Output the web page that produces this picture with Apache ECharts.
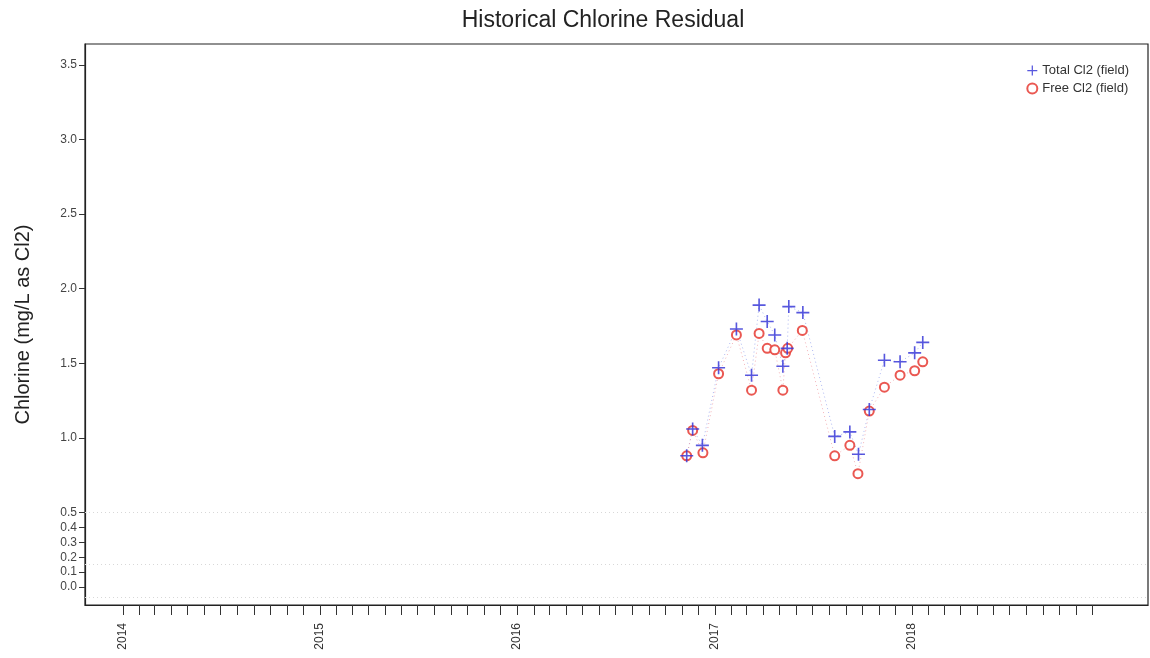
<!DOCTYPE html>
<html>
<head>
<meta charset="utf-8">
<title>Historical Chlorine Residual</title>
<script src="https://cdn.jsdelivr.net/npm/echarts@6/dist/echarts.min.js"></script>
<style>
  html, body { margin: 0; padding: 0; background: #fff; }
  #chart { width: 1150px; height: 658px; }
</style>
</head>
<body>
<div id="chart"></div>
<script>
// Field sampling dates and residuals (mg/L as Cl2)
const totalDates = [
  '2016-11-10', '2016-11-21', '2016-12-09', '2017-01-08', '2017-02-10',
  '2017-03-10', '2017-03-24', '2017-04-08', '2017-04-22', '2017-05-07',
  '2017-05-15', '2017-05-18', '2017-06-13', '2017-08-11', '2017-09-08',
  '2017-09-24', '2017-10-14', '2017-11-11', '2017-12-10', '2018-01-06',
  '2018-01-21'
];
const totalCl2 = [
  0.88, 1.06, 0.95, 1.47, 1.73,
  1.42, 1.89, 1.78, 1.69, 1.48,
  1.60, 1.88, 1.84, 1.01, 1.04,
  0.89, 1.19, 1.52, 1.51, 1.57,
  1.64
];
const freeDates = [
  '2016-11-10', '2016-11-21', '2016-12-10', '2017-01-08', '2017-02-10',
  '2017-03-10', '2017-03-24', '2017-04-08', '2017-04-22', '2017-05-07',
  '2017-05-12', '2017-05-16', '2017-06-12', '2017-08-11', '2017-09-08',
  '2017-09-23', '2017-10-14', '2017-11-11', '2017-12-10', '2018-01-06',
  '2018-01-21'
];
const freeCl2 = [
  0.88, 1.05, 0.90, 1.43, 1.69,
  1.32, 1.70, 1.60, 1.59, 1.32,
  1.57, 1.60, 1.72, 0.88, 0.95,
  0.76, 1.18, 1.34, 1.42, 1.45,
  1.51
];
const yTickValues = [0, 0.1, 0.2, 0.3, 0.4, 0.5, 1.0, 1.5, 2.0, 2.5, 3.0, 3.5];
const yearLabels = ['2014', '2015', '2016', '2017', '2018'];
const referenceLevels = [0.5, 0.15, -0.07];

const seriesNames = ['Total Cl2 (field)', 'Free Cl2 (field)'];
const blue = '#3a3ad8';
const red = '#e8463f';
const plusPath = 'path://M10.5,0h3v10.5h10.5v3h-10.5v10.5h-3v-10.5h-10.5v-3h10.5z';

const ts = s => Date.parse(s + 'T00:00:00Z');

// Monthly ticks from Jan 2014 through Dec 2018
const monthTicks = [];
for (let y = 2014; y <= 2018; y++) {
  for (let m = 0; m < 12; m++) monthTicks.push(Date.UTC(y, m, 1));
}
const yearTicks = yearLabels.map(y => Date.UTC(+y, 0, 1));

const pairs = (dates, vals) => dates.map((d, i) => [ts(d), vals[i]]);

const chart = echarts.init(document.getElementById('chart'), null, { renderer: 'canvas' });
chart.setOption({
  animation: false,
  backgroundColor: '#fff',
  textStyle: { fontFamily: 'Liberation Sans, Arial, sans-serif' },
  title: {
    text: 'Historical Chlorine Residual',
    left: 598, top: 4, textAlign: 'center',
    textStyle: { fontSize: 23, fontWeight: 'normal', color: '#222' }
  },
  legend: {
    data: [
      { name: seriesNames[0], icon: plusPath, itemStyle: { color: blue } },
      { name: seriesNames[1], icon: 'emptyCircle', itemStyle: { color: red, borderColor: red, borderWidth: 1.2 } }
    ],
    orient: 'vertical', right: 16, top: 59,
    itemWidth: 10, itemHeight: 10, itemGap: 5,
    textStyle: { fontSize: 13, color: '#333' }
  },
  grid: {
    left: 85, right: 2, top: 44, bottom: 53,
    show: true, borderColor: '#222', borderWidth: 1.2, backgroundColor: 'transparent'
  },
  xAxis: {
    type: 'value',
    min: ts('2013-10-23'), max: ts('2019-03-14'),
    axisLine: { show: true, onZero: false, lineStyle: { color: '#222', width: 1.2 } },
    axisTick: { show: true, customValues: monthTicks, length: 10, lineStyle: { color: '#333' } },
    axisLabel: {
      customValues: yearTicks, rotate: 90, fontSize: 12, color: '#333', margin: 18,
      formatter: v => String(new Date(v).getUTCFullYear())
    },
    splitLine: { show: false }
  },
  yAxis: {
    type: 'value',
    min: -0.12, max: 3.64,
    name: 'Chlorine (mg/L as Cl2)', nameLocation: 'middle', nameGap: 52,
    nameTextStyle: { fontSize: 20, color: '#222' },
    axisLine: { show: true, lineStyle: { color: '#222', width: 1.2 } },
    axisTick: { show: true, customValues: yTickValues, length: 6, lineStyle: { color: '#333' } },
    axisLabel: {
      customValues: yTickValues, fontSize: 12, color: '#444', margin: 8,
      formatter: v => v.toFixed(1)
    },
    splitLine: { show: false }
  },
  series: [
    {
      type: 'line', name: 'total-path', data: pairs(totalDates, totalCl2),
      showSymbol: false, silent: true,
      lineStyle: { color: '#9aa6ee', width: 1, type: [1, 3], opacity: 0.8 },
      z: 1
    },
    {
      type: 'line', name: 'free-path', data: pairs(freeDates, freeCl2),
      showSymbol: false, silent: true,
      lineStyle: { color: '#f0a0a8', width: 1, type: [1, 3], opacity: 0.8 },
      markLine: {
        silent: true, symbol: 'none', label: { show: false },
        lineStyle: { color: '#d8d8d8', width: 1, type: [1, 3] },
        data: referenceLevels.map(v => ({ yAxis: v }))
      },
      z: 1
    },
    {
      type: 'scatter', name: seriesNames[1], data: pairs(freeDates, freeCl2),
      symbol: 'emptyCircle', symbolSize: 9,
      itemStyle: { color: red, borderColor: red, borderWidth: 1.3, opacity: 0.9 },
      z: 3
    },
    {
      type: 'scatter', name: seriesNames[0], data: pairs(totalDates, totalCl2),
      symbol: plusPath, symbolSize: 13,
      itemStyle: { color: blue, opacity: 0.85 },
      z: 4
    }
  ]
});
</script>
</body>
</html>
